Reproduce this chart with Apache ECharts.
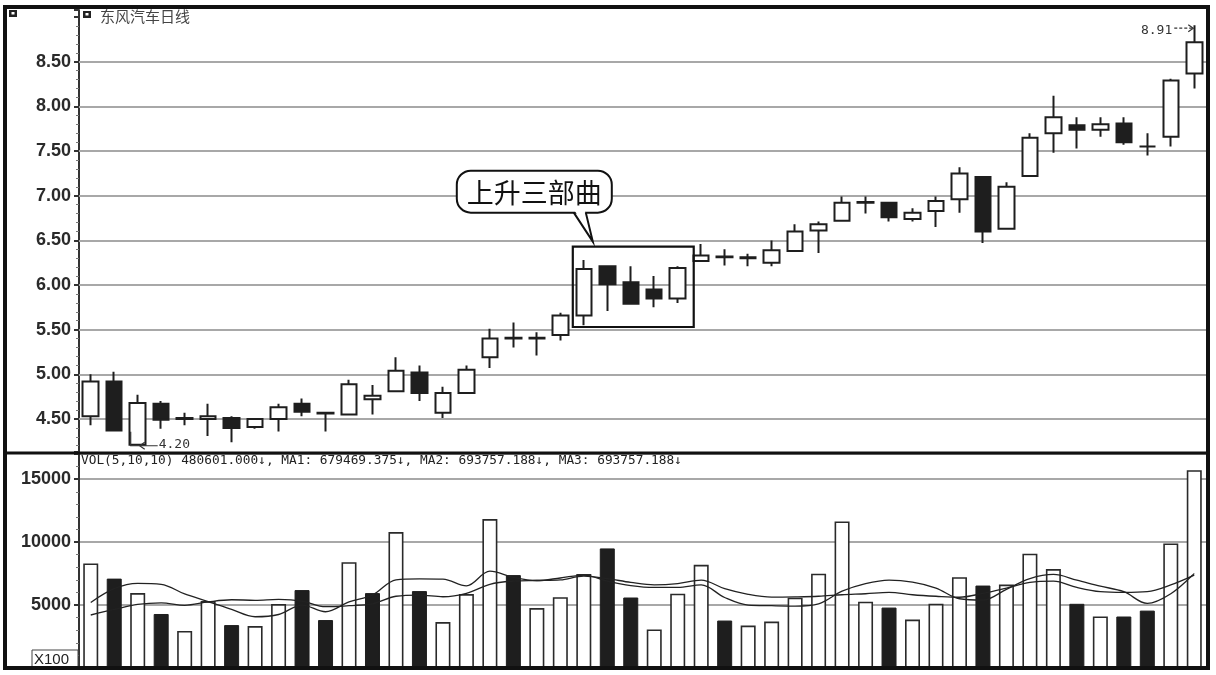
<!DOCTYPE html>
<html><head><meta charset="utf-8">
<script src="https://cdn.jsdelivr.net/npm/echarts@6/dist/echarts.min.js"></script>
<style>html,body{margin:0;padding:0;background:#fff;}#c{width:1216px;height:675px;}</style>
</head><body><div id="c"></div>
<script>
// ---------- data ----------
const days = ['1','2','3','4','5','6','7','8','9','10','11','12','13','14','15','16','17','18','19','20','21','22','23','24',
  '25','26','27','28','29','30','31','32','33','34','35','36','37','38','39','40','41','42','43','44','45','46','47','48'];
const opens  = [4.53,4.92,4.21,4.67,4.51,4.50,4.51,4.41,4.50,4.67,4.57,4.55,4.72,4.81,5.02,4.57,4.79,5.19,5.41,5.40,5.44,5.66,6.21,6.03,
  5.95,5.85,6.27,6.32,6.30,6.25,6.38,6.61,6.72,6.92,6.92,6.74,6.83,6.96,7.21,6.63,7.22,7.70,7.79,7.74,7.81,7.55,7.66,8.37];
const closes = [4.92,4.37,4.68,4.49,4.50,4.53,4.40,4.50,4.63,4.58,4.56,4.89,4.76,5.04,4.79,4.79,5.05,5.40,5.40,5.41,5.66,6.18,6.01,5.79,
  5.85,6.19,6.33,6.31,6.31,6.39,6.60,6.68,6.92,6.93,6.76,6.81,6.94,7.25,6.60,7.10,7.65,7.88,7.74,7.80,7.60,7.55,8.29,8.72];
const lows   = [4.43,4.36,4.20,4.39,4.43,4.31,4.24,4.39,4.36,4.53,4.36,4.55,4.55,4.80,4.70,4.51,4.79,5.07,5.30,5.21,5.38,5.55,5.71,5.78,
  5.75,5.80,6.26,6.22,6.21,6.21,6.38,6.36,6.72,6.80,6.71,6.71,6.65,6.81,6.47,6.63,7.22,7.48,7.53,7.66,7.57,7.45,7.55,8.20];
const highs  = [5.00,5.03,4.77,4.70,4.57,4.67,4.53,4.51,4.67,4.73,4.58,4.94,4.88,5.19,5.10,4.86,5.10,5.51,5.58,5.47,5.69,6.28,6.21,6.21,
  6.10,6.21,6.46,6.40,6.35,6.50,6.68,6.71,6.99,6.99,6.92,6.86,6.99,7.32,7.21,7.15,7.70,8.12,7.88,7.88,7.88,7.70,8.31,8.91];
const volumes = [8300,7100,5950,4290,2940,5320,3410,3330,5080,6190,3810,8410,5950,10800,6110,3650,5870,11830,7380,4760,5630,7460,9500,5600,
  3060,5900,8200,3770,3370,3690,5580,7490,11640,5270,4800,3850,5100,7210,6550,6630,9080,7860,5100,4090,4090,4560,9900,15710];
const volUp = [1,0,1,0,1,1,0,1,1,0,0,1,0,1,0,1,1,1,0,1,1,1,0,0,1,1,1,0,1,1,1,1,1,1,0,1,1,1,0,1,1,1,0,1,0,0,1,1];
const ma1 = [5210,6300,6720,6650,5880,5280,4650,4070,4250,5000,4470,5250,5800,7000,7080,7060,6530,7700,7200,6950,7150,7380,6900,6550,
  6400,6400,6600,5600,5000,4950,4920,5100,6100,6700,6980,6820,6350,5500,5400,6250,7100,7430,6980,6500,6060,5130,5900,7510];
const ma2 = [4210,4650,5050,5170,4980,5250,5420,5380,5450,5320,4870,4950,5100,5700,5790,5660,5930,6650,6900,6950,7000,7300,7100,6800,
  6600,6700,6980,6300,5850,5630,5650,5700,5820,5900,6000,5820,5700,5620,5930,6350,6800,6900,6400,6060,6000,6060,6600,7380];
const priceTicks = [4.5,5.0,5.5,6.0,6.5,7.0,7.5,8.0,8.5];
const volTicks = [5000,10000,15000];
const titleText = '东风汽车日线';
const volHeader = 'VOL(5,10,10) 480601.000↓, MA1: 679469.375↓, MA2: 693757.188↓, MA3: 693757.188↓';
const calloutText = '上升三部曲';
const boxFrom = 21, boxTo = 25, boxTopVal = 6.43, boxBottomVal = 5.53;

// ---------- chart ----------
const chart = echarts.init(document.getElementById('c'), null, {renderer:'canvas'});
const ink = '#1e1e1e';
const candleData = opens.map((o,i)=>[o, closes[i], lows[i], highs[i]]);
const volData = volumes.map((v,i)=>({value:v, itemStyle: volUp[i]
  ? {color:'#fff', borderColor:'#2a2a2a', borderWidth:1.6}
  : {color:ink, borderColor:ink, borderWidth:1}}));
const isTick = (arr,v)=>arr.some(t=>Math.abs(t-v)<1e-6);

chart.setOption({
  animation:false,
  backgroundColor:'#fff',
  grid:[{left:79,right:10,top:10,height:442},{left:79,right:10,top:454,height:214}],
  xAxis:[
    {type:'category',gridIndex:0,data:days,boundaryGap:true,axisLine:{show:false},axisTick:{show:false},axisLabel:{show:false},splitLine:{show:false}},
    {type:'category',gridIndex:1,data:days,boundaryGap:true,axisLine:{show:false},axisTick:{show:false},axisLabel:{show:false},splitLine:{show:false}}
  ],
  yAxis:[
    {type:'value',gridIndex:0,min:4.13,max:9.08,splitNumber:10,
     axisLine:{show:true,lineStyle:{color:'#333',width:2}},
     axisTick:{show:true,length:5,lineStyle:{color:'#333',width:2}},
     minorTick:{show:true,splitNumber:5,length:3,lineStyle:{color:'#777',width:1}},
     splitLine:{show:false},
     axisLabel:{color:'#2a2a2a',fontFamily:'Liberation Sans',fontWeight:'bold',fontSize:18,margin:8,
       formatter:v=>isTick(priceTicks,v)?v.toFixed(2):''}},
    {type:'value',gridIndex:1,min:0,max:17000,interval:5000,
     axisLine:{show:true,lineStyle:{color:'#333',width:2}},
     axisTick:{show:true,length:5,lineStyle:{color:'#333',width:2}},
     minorTick:{show:true,splitNumber:5,length:3,lineStyle:{color:'#777',width:1}},
     splitLine:{show:true,lineStyle:{color:'#a8a8a8',width:2}},
     axisLabel:{color:'#2a2a2a',fontFamily:'Liberation Sans',fontWeight:'bold',fontSize:18,margin:8,
       formatter:v=>isTick(volTicks,v)?String(v):''}}
  ],
  series:[
    {type:'candlestick',xAxisIndex:0,yAxisIndex:0,data:candleData,barWidth:16,
     itemStyle:{color:'#fff',color0:ink,borderColor:ink,borderColor0:ink,borderColorDoji:ink,borderWidth:2},
     markLine:{silent:true,symbol:'none',z:1,label:{show:false},
       lineStyle:{color:'#a8a8a8',width:2,type:'solid'},
       data:priceTicks.map(v=>({yAxis:v}))}},
    {type:'bar',xAxisIndex:1,yAxisIndex:1,data:volData,barWidth:15,z:2},
    {type:'line',xAxisIndex:1,yAxisIndex:1,data:ma1,smooth:0.35,symbol:'none',z:3,lineStyle:{color:'#222',width:1.3}},
    {type:'line',xAxisIndex:1,yAxisIndex:1,data:ma2,smooth:0.35,symbol:'none',z:3,lineStyle:{color:'#222',width:1.3}}
  ]
});

// ---------- annotations anchored to data ----------
const px = (i,v)=>chart.convertToPixel({xAxisIndex:0,yAxisIndex:0},[i,v]);
const g = [];
// frame and separator
g.push({type:'rect',z:100,shape:{x:5,y:7,width:1203,height:661},style:{fill:'none',stroke:'#111',lineWidth:4}});
g.push({type:'line',z:100,shape:{x1:5,y1:453,x2:1208,y2:453},style:{stroke:'#111',lineWidth:3}});
// small icons
[[9,10],[83,11]].forEach(([x,y])=>{
  g.push({type:'rect',z:100,shape:{x:x,y:y,width:8,height:7},style:{fill:'#222'}});
  g.push({type:'rect',z:101,shape:{x:x+2.5,y:y+2,width:3,height:2.5},style:{fill:'#fff'}});
});
g.push({type:'text',z:100,x:100,y:16,style:{text:titleText,fill:'#444',font:'15px "Noto Sans CJK SC"',textVerticalAlign:'middle'}});
g.push({type:'text',z:100,x:81,y:461,style:{text:volHeader,fill:'#222',font:'12.8px "DejaVu Sans Mono"',textVerticalAlign:'middle'}});
// X100 box
g.push({type:'rect',z:90,shape:{x:32,y:650,width:46,height:18},style:{fill:'#fff',stroke:'#444',lineWidth:1}});
g.push({type:'text',z:91,x:34,y:660,style:{text:'X100',fill:'#222',font:'15px "Liberation Sans"',textVerticalAlign:'middle'}});

// box around the three-step pattern
const bl = px(boxFrom, boxTopVal), br = px(boxTo, boxBottomVal);
const bx0 = bl[0]-11, by0 = bl[1], bx1 = br[0]+16, by1 = br[1];
g.push({type:'rect',z:60,shape:{x:bx0,y:by0,width:bx1-bx0,height:by1-by0},style:{fill:'none',stroke:'#111',lineWidth:2.2}});
// callout bubble
const tx = bx0+20, ty = by0-5;
const x0 = tx-136, x1 = tx+19, y0 = ty-71, y1 = ty-29;
g.push({type:'rect',z:60,shape:{x:x0,y:y0,width:x1-x0,height:y1-y0,r:14},style:{fill:'#fff',stroke:'#111',lineWidth:2}});
g.push({type:'polygon',z:61,shape:{points:[[tx-18,y1-2],[tx,ty],[tx-8,y1-2]]},style:{fill:'#fff',stroke:null}});
g.push({type:'polyline',z:62,shape:{points:[[tx-19,y1],[tx,ty],[tx-7,y1]]},style:{fill:'none',stroke:'#111',lineWidth:2}});
g.push({type:'text',z:63,x:(x0+x1)/2,y:(y0+y1)/2+1,style:{text:calloutText,fill:'#111',font:'27px "Noto Sans CJK SC"',textAlign:'center',textVerticalAlign:'middle'}});

// lowest-low marker
let li = 0; lows.forEach((v,i)=>{ if(v<lows[li]) li=i; });
const lp = px(li, lows[li]);
g.push({type:'polyline',z:60,shape:{points:[[lp[0]-7,lp[1]-14],[lp[0]-7,lp[1]],[lp[0]+20,lp[1]]]},style:{stroke:'#333',lineWidth:1.2,fill:'none'}});
g.push({type:'polyline',z:60,shape:{points:[[lp[0]+7,lp[1]-3.5],[lp[0]+2,lp[1]],[lp[0]+7,lp[1]+3.5]]},style:{stroke:'#333',lineWidth:1.2,fill:'none'}});
g.push({type:'text',z:60,x:lp[0]+21,y:lp[1]-1,style:{text:lows[li].toFixed(2),fill:'#333',font:'13px "DejaVu Sans Mono"',textVerticalAlign:'middle'}});
// highest-high marker
let hi = 0; highs.forEach((v,i)=>{ if(v>highs[hi]) hi=i; });
const hp = px(hi, highs[hi]);
g.push({type:'line',z:60,shape:{x1:hp[0]-20,y1:hp[1]+3,x2:hp[0]-1,y2:hp[1]+3},style:{stroke:'#333',lineWidth:1.2,lineDash:[3,2]}});
g.push({type:'polyline',z:60,shape:{points:[[hp[0]-6,hp[1]-0.5],[hp[0]-1,hp[1]+3],[hp[0]-6,hp[1]+6.5]]},style:{stroke:'#333',lineWidth:1.2,fill:'none'}});
g.push({type:'text',z:60,x:hp[0]-22,y:hp[1]+5,style:{text:highs[hi].toFixed(2),fill:'#333',font:'13px "DejaVu Sans Mono"',textAlign:'right',textVerticalAlign:'middle'}});

chart.setOption({graphic:g});
</script>
</body></html>
